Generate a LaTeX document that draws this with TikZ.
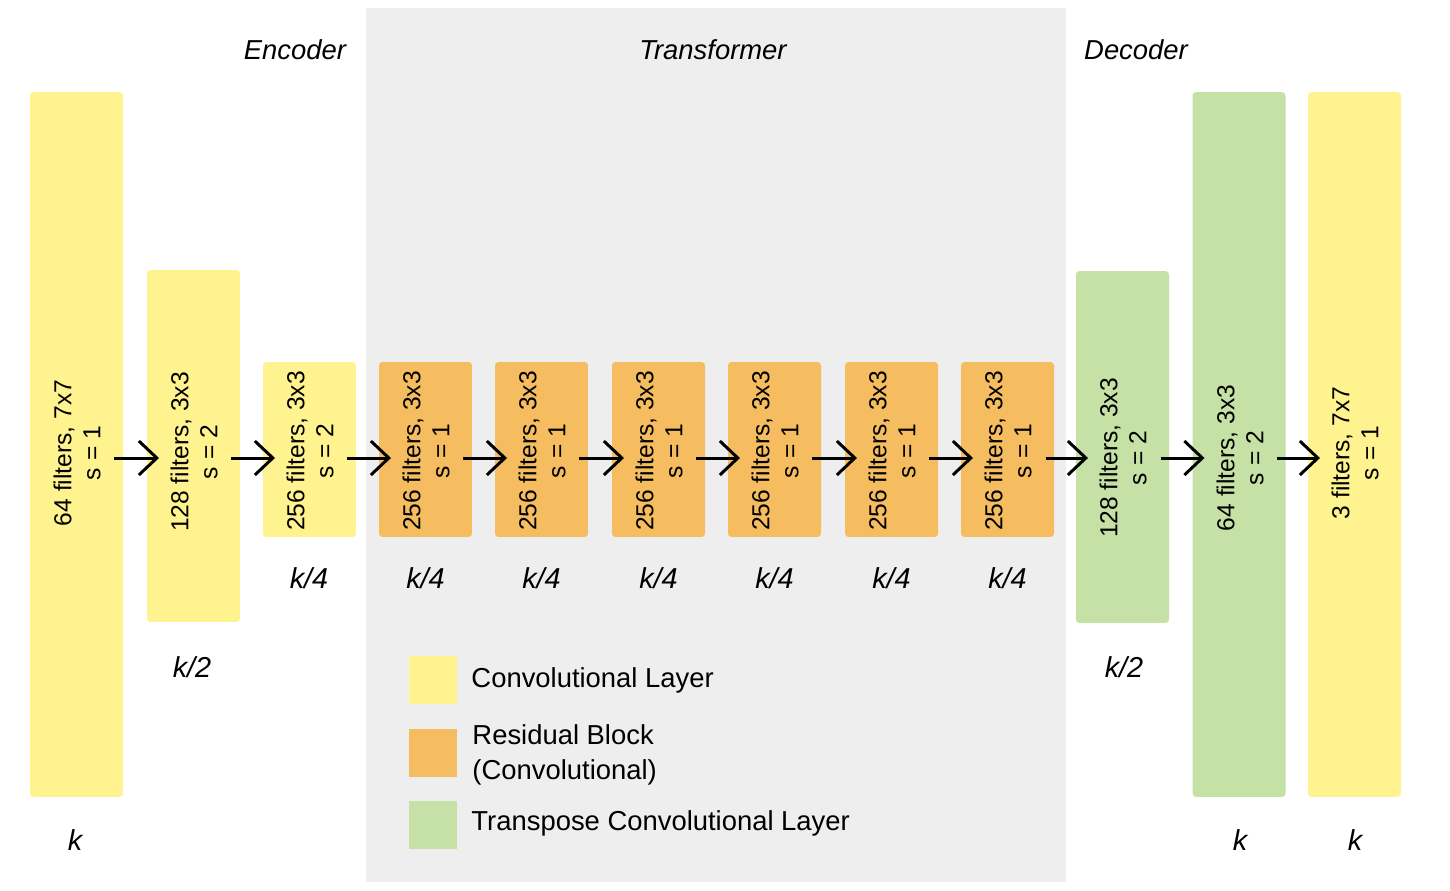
\documentclass[tikz,border=0pt]{standalone}
\usepackage{fontspec}
\setmainfont{Liberation Sans}
\usepackage{xcolor}
\usetikzlibrary{arrows.meta}
\definecolor{convyellow}{HTML}{FFF38F}
\definecolor{resorange}{HTML}{F5BD5F}
\definecolor{tconvgreen}{HTML}{C5E1A5}
\definecolor{bggray}{HTML}{EEEEEE}

\begin{document}
\begin{tikzpicture}[x=0.02cm, y=-0.02cm, line width=1.7pt,
                    >={Straight Barb[length=0.36cm, width=0.68cm]}]
\tikzstyle{layer}=[rectangle, draw=none, rounded corners=2pt,
                    inner sep=0pt, minimum width=1.86cm]
\tikzstyle{conv}=[layer, fill=convyellow]
\tikzstyle{res}=[layer, fill=resorange]
\tikzstyle{tconv}=[layer, fill=tconvgreen]
\tikzstyle{hfull}=[minimum height=14.1cm]
\tikzstyle{hhalf}=[minimum height=7.04cm]
\tikzstyle{hquarter}=[minimum height=3.5cm]
\tikzstyle{info}=[rotate=90, align=center, font=\fontsize{14}{16.5}\selectfont]
\tikzstyle{sizelbl}=[font=\fontsize{16.4}{19}\selectfont\itshape]
\tikzstyle{heading}=[font=\fontsize{15.6}{19}\selectfont\itshape]
\tikzstyle{legendtxt}=[anchor=west, align=left, inner sep=0pt,
                    font=\fontsize{15.6}{19.9}\selectfont]
\tikzstyle{swatch}=[rectangle, minimum size=0.96cm, inner sep=0pt]
  \useasboundingbox (0,0) rectangle (1450,890);
  \fill[bggray] (366,8) rectangle (1066,882);

  \node[heading] (enc) at (295,50) {Encoder};
  \node[heading] (trf) at (713,50) {Transformer};
  \node[heading] (dec) at (1136,50) {Decoder};

  % encoder
  \node[conv, hfull] (c1) at (76.5,444.5) {};
  \node[conv, hhalf] (c2) at (193.5,446) {};
  \node[conv, hquarter] (c3) at (309.5,449.5) {};
  % residual blocks
  \node[res, hquarter] (r1) at (425.5,449.5) {};
  \node[res, hquarter] (r2) at (541.5,449.5) {};
  \node[res, hquarter] (r3) at (658.5,449.5) {};
  \node[res, hquarter] (r4) at (774.5,449.5) {};
  \node[res, hquarter] (r5) at (891.5,449.5) {};
  \node[res, hquarter] (r6) at (1007.5,449.5) {};
  % decoder
  \node[tconv, hhalf] (t1) at (1122.5,447) {};
  \node[tconv, hfull] (t2) at (1239,444.5) {};
  \node[conv, hfull] (c4) at (1354.5,444.5) {};

  \node[info] (c1t) at (77,453) {64 filters, 7x7\\s = 1};
  \node[info] (c2t) at (194,452) {128 filters, 3x3\\s = 2};
  \node[info] (c3t) at (310,451) {256 filters, 3x3\\s = 2};
  \node[info] (r1t) at (426,451) {256 filters, 3x3\\s = 1};
  \node[info] (r2t) at (542,451) {256 filters, 3x3\\s = 1};
  \node[info] (r3t) at (659,451) {256 filters, 3x3\\s = 1};
  \node[info] (r4t) at (775,451) {256 filters, 3x3\\s = 1};
  \node[info] (r5t) at (892,451) {256 filters, 3x3\\s = 1};
  \node[info] (r6t) at (1008,451) {256 filters, 3x3\\s = 1};
  \node[info] (t1t) at (1123,458) {128 filters, 3x3\\s = 2};
  \node[info] (t2t) at (1240,458) {64 filters, 3x3\\s = 2};
  \node[info] (c4t) at (1355,453) {3 filters, 7x7\\s = 1};

  \path[->] ([xshift=-0.2cm]c1.east |- 0,458) edge ([xshift=0.27cm]c2.west |- 0,458);
  \path[->] ([xshift=-0.2cm]c2.east |- 0,458) edge ([xshift=0.27cm]c3.west |- 0,458);
  \path[->] ([xshift=-0.2cm]c3.east |- 0,458) edge ([xshift=0.27cm]r1.west |- 0,458);
  \path[->] ([xshift=-0.2cm]r1.east |- 0,458) edge ([xshift=0.27cm]r2.west |- 0,458);
  \path[->] ([xshift=-0.2cm]r2.east |- 0,458) edge ([xshift=0.27cm]r3.west |- 0,458);
  \path[->] ([xshift=-0.2cm]r3.east |- 0,458) edge ([xshift=0.27cm]r4.west |- 0,458);
  \path[->] ([xshift=-0.2cm]r4.east |- 0,458) edge ([xshift=0.27cm]r5.west |- 0,458);
  \path[->] ([xshift=-0.2cm]r5.east |- 0,458) edge ([xshift=0.27cm]r6.west |- 0,458);
  \path[->] ([xshift=-0.2cm]r6.east |- 0,458) edge ([xshift=0.27cm]t1.west |- 0,458);
  \path[->] ([xshift=-0.2cm]t1.east |- 0,458) edge ([xshift=0.27cm]t2.west |- 0,458);
  \path[->] ([xshift=-0.2cm]t2.east |- 0,458) edge ([xshift=0.27cm]c4.west |- 0,458);

  \node[sizelbl] (kc1) at (75,840) {k};
  \node[sizelbl] (kc2) at (192,667) {k/2};
  \node[sizelbl] (kc3) at (309,578) {k/4};
  \node[sizelbl] (kr1) at (425.5,578) {k/4};
  \node[sizelbl] (kr2) at (541.5,578) {k/4};
  \node[sizelbl] (kr3) at (658.5,578) {k/4};
  \node[sizelbl] (kr4) at (774.5,578) {k/4};
  \node[sizelbl] (kr5) at (891.5,578) {k/4};
  \node[sizelbl] (kr6) at (1007.5,578) {k/4};
  \node[sizelbl] (kt1) at (1124,667) {k/2};
  \node[sizelbl] (kt2) at (1240,840) {k};
  \node[sizelbl] (kc4) at (1355,840) {k};

  % legend
  \node[swatch, fill=convyellow] (sw1) at (433,680) {};
  \node[swatch, fill=resorange] (sw2) at (433,752.5) {};
  \node[swatch, fill=tconvgreen] (sw3) at (433,825) {};
  \node[legendtxt] (lg1) at (470,680) {Convolutional Layer};
  \node[legendtxt] (lg2) at (471,754.5) {Residual Block\\(Convolutional)};
  \node[legendtxt] (lg3) at (470,823) {Transpose Convolutional Layer};
\end{tikzpicture}
\end{document}
